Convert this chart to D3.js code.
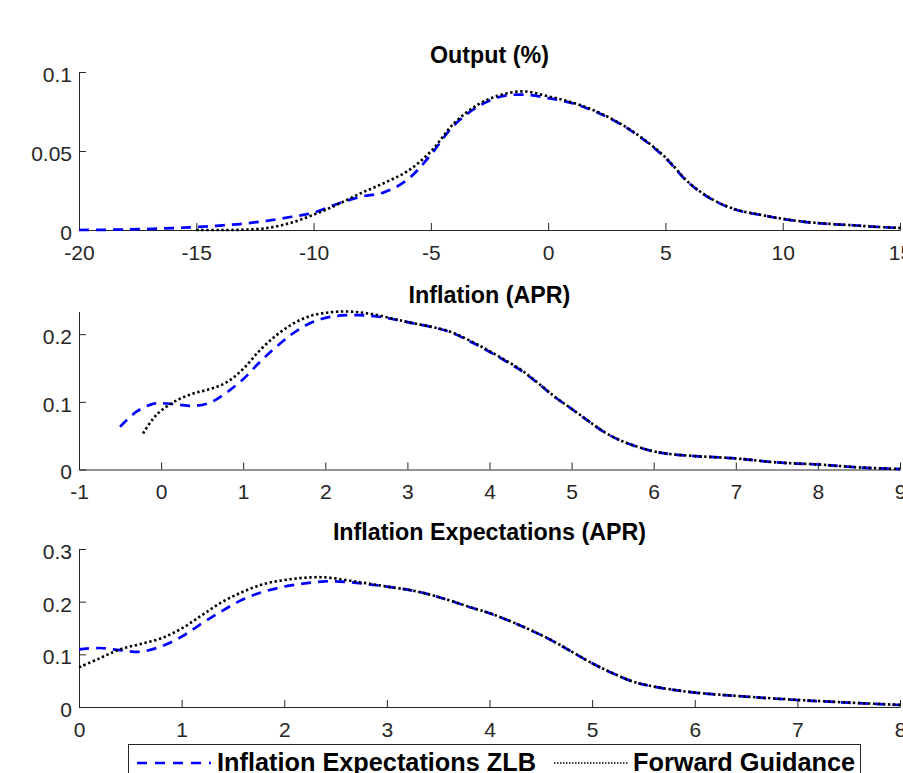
<!DOCTYPE html>
<html>
<head>
<meta charset="utf-8">
<script src="https://cdn.jsdelivr.net/npm/d3@7"></script>
<style>
  html, body { margin: 0; padding: 0; background: #fff; }
  svg { display: block; font-family: "Liberation Sans", Arial, sans-serif; }
</style>
</head>
<body>
<svg id="chart" width="903" height="773"></svg>
<script>
// ---------- Data ----------
const titles = ["Output (%)", "Inflation (APR)", "Inflation Expectations (APR)"];
const seriesNames = ["Inflation Expectations ZLB", "Forward Guidance"];

// Output (%)
const outZlbX = [-20,-18,-16,-15,-14,-13,-12,-11,-10,-9,-8,-7,-6,-5,-4,-3,-2,-1,0,1,2,3,4,5,6,7,8,9,10,11,12,13,14,15];
const outZlbY = [0,0.0003,0.0012,0.0019,0.0028,0.004,0.0058,0.0082,0.011,0.0165,0.021,0.0238,0.0318,0.0477,0.0665,0.078,0.0845,0.0856,0.0835,0.0804,0.075,0.0677,0.058,0.0456,0.0297,0.0192,0.0128,0.0097,0.007,0.005,0.0038,0.003,0.002,0.0013];
const outFgX = [-15,-14,-13,-12,-11,-10,-9,-8,-7,-6,-5,-4,-3,-2,-1,0,1,2,3,4,5,6,7,8,9,10,11,12,13,14,15];
const outFgY = [0,0,0.0002,0.0012,0.0044,0.0097,0.016,0.0232,0.0297,0.0372,0.0497,0.0677,0.0793,0.0856,0.0877,0.0846,0.0808,0.0754,0.068,0.0583,0.046,0.03,0.0194,0.013,0.0098,0.0071,0.0051,0.0039,0.003,0.002,0.0013];
const outXTicks = [-20,-15,-10,-5,0,5,10,15];
const outYTicks = [0,0.05,0.1];

// Inflation (APR)
const infZlbX = [-0.5,-0.3,-0.1,0,0.2,0.4,0.6,0.8,1.0,1.2,1.4,1.6,1.8,2.0,2.2,2.4,2.6,2.8,3.0,3.5,3.8,4.0,4.2,4.4,4.6,4.8,5.0,5.2,5.4,5.6,5.8,6.0,6.2,6.5,7.0,7.5,8.0,8.5,9.0];
const infZlbY = [0.063,0.0855,0.097,0.098,0.096,0.094,0.099,0.114,0.1335,0.1585,0.181,0.2006,0.2154,0.224,0.2277,0.228,0.2267,0.2228,0.2178,0.204,0.187,0.174,0.16,0.145,0.1265,0.1067,0.0895,0.072,0.055,0.0425,0.0336,0.0267,0.0228,0.0198,0.0163,0.0104,0.0074,0.003,0.0007];
const infFgX = [-0.22,-0.1,0,0.2,0.4,0.6,0.8,1.0,1.2,1.4,1.6,1.8,2.0,2.2,2.4,2.6,2.8,3.0,3.5,3.8,4.0,4.2,4.4,4.6,4.8,5.0,5.2,5.4,5.6,5.8,6.0,6.2,6.5,7.0,7.5,8.0,8.5,9.0];
const infFgY = [0.0533,0.0746,0.087,0.1028,0.1126,0.119,0.129,0.1487,0.1758,0.198,0.215,0.2262,0.2315,0.2335,0.2325,0.229,0.2235,0.218,0.2045,0.188,0.175,0.161,0.146,0.127,0.107,0.0897,0.0722,0.0552,0.0427,0.0338,0.0268,0.0229,0.0199,0.0164,0.0105,0.0075,0.0031,0.0008];
const infXTicks = [-1,0,1,2,3,4,5,6,7,8,9];
const infYTicks = [0,0.1,0.2];

// Inflation Expectations (APR)
const expZlbX = [0,0.2,0.4,0.6,0.8,1.0,1.2,1.4,1.6,1.8,2.0,2.2,2.4,2.6,2.8,3.0,3.3,3.6,3.8,4.0,4.2,4.4,4.6,4.8,5.0,5.2,5.4,5.6,5.8,6.0,6.5,7.0,7.5,8.0];
const expZlbY = [0.1095,0.112,0.108,0.105,0.115,0.1335,0.159,0.183,0.2045,0.219,0.2285,0.2348,0.2386,0.2375,0.2335,0.2285,0.219,0.203,0.19,0.178,0.163,0.146,0.127,0.105,0.083,0.064,0.048,0.0386,0.0323,0.0272,0.0196,0.0133,0.0082,0.0038];
const expFgX = [0,0.2,0.4,0.6,0.8,1.0,1.2,1.4,1.6,1.8,2.0,2.2,2.4,2.6,2.8,3.0,3.3,3.6,3.8,4.0,4.2,4.4,4.6,4.8,5.0,5.2,5.4,5.6,5.8,6.0,6.5,7.0,7.5,8.0];
const expFgY = [0.0753,0.0924,0.1095,0.1196,0.1304,0.149,0.1747,0.2,0.219,0.2335,0.241,0.2455,0.2462,0.241,0.235,0.2287,0.2192,0.2032,0.1902,0.1782,0.1632,0.1462,0.1272,0.1052,0.0832,0.0642,0.0482,0.0388,0.0325,0.0274,0.0198,0.0135,0.0084,0.004];
const expXTicks = [0,1,2,3,4,5,6,7,8];
const expYTicks = [0,0.1,0.2,0.3];

const xDomains = [[-20,15],[-1,9],[0,8]];
const yDomains = [[0,0.1],[0,0.2335],[0,0.3]];

// ---------- Layout ----------
const svg = d3.select("#chart");
const axisColor = "#262626";
const left = 79, right = 900;
const tops = [72, 311.5, 549];
const plotH = 158;

const panels = [
  {title: titles[0], zx: outZlbX, zy: outZlbY, fx: outFgX, fy: outFgY, xt: outXTicks, yt: outYTicks},
  {title: titles[1], zx: infZlbX, zy: infZlbY, fx: infFgX, fy: infFgY, xt: infXTicks, yt: infYTicks},
  {title: titles[2], zx: expZlbX, zy: expZlbY, fx: expFgX, fy: expFgY, xt: expXTicks, yt: expYTicks}
];

const fmt = v => (v === 0 ? "0" : String(+v.toFixed(3)));

panels.forEach((p, i) => {
  const top = tops[i], bottom = top + plotH;
  const x = d3.scaleLinear().domain(xDomains[i]).range([left, right]);
  const y = d3.scaleLinear().domain(yDomains[i]).range([bottom, top]);
  const g = svg.append("g");

  const xa = g.append("g").attr("transform", `translate(0,${bottom})`)
    .call(d3.axisBottom(x).tickValues(p.xt).tickFormat(fmt).tickSizeInner(-7).tickSizeOuter(0).tickPadding(14));
  const ya = g.append("g").attr("transform", `translate(${left},0)`)
    .call(d3.axisLeft(y).tickValues(p.yt).tickFormat(fmt).tickSizeInner(-7).tickSizeOuter(0).tickPadding(7));
  [xa, ya].forEach(a => {
    a.select(".domain").attr("stroke", axisColor).attr("stroke-width", 1);
    a.selectAll(".tick line").attr("stroke", axisColor).attr("stroke-width", 1);
    a.selectAll(".tick text").attr("fill", axisColor).attr("font-size", 21)
      .attr("font-family", "'Liberation Sans', Arial, sans-serif");
  });
  xa.selectAll(".tick text").attr("y", 29.5).attr("dy", null);
  ya.selectAll(".tick text").attr("dy", "0.45em");

  const line = (xs, ys) => d3.line().curve(d3.curveCatmullRom.alpha(0.5))
      .x(d => x(d[0])).y(d => y(d[1]))(xs.map((v, k) => [v, ys[k]]));

  g.append("path").attr("d", line(p.zx, p.zy))
    .attr("fill", "none").attr("stroke", "#0000ff").attr("stroke-width", 2.7)
    .attr("stroke-dasharray", "10,7");
  g.append("path").attr("d", line(p.fx, p.fy))
    .attr("fill", "none").attr("stroke", "#000").attr("stroke-width", 2.6)
    .attr("stroke-dasharray", "2.4,2.6");

  g.append("text").attr("x", (left + right) / 2).attr("y", top - 9)
    .attr("text-anchor", "middle").attr("font-weight", "bold").attr("font-size", 23.3)
    .attr("fill", "#000").text(p.title);
});

// ---------- Legend ----------
const lg = svg.append("g");
lg.append("rect").attr("x", 128.5).attr("y", 744.5).attr("width", 732).attr("height", 60)
  .attr("fill", "#fff").attr("stroke", axisColor).attr("stroke-width", 1);
const ly = 763;
lg.append("line").attr("x1", 137).attr("x2", 211).attr("y1", ly).attr("y2", ly)
  .attr("stroke", "#0000ff").attr("stroke-width", 2.5).attr("stroke-dasharray", "10,8");
lg.append("text").attr("x", 217).attr("y", 771).attr("font-size", 25.3).attr("font-weight", "bold")
  .attr("fill", "#000").text(seriesNames[0]);
lg.append("line").attr("x1", 554).attr("x2", 628).attr("y1", ly).attr("y2", ly)
  .attr("stroke", "#000").attr("stroke-width", 1.5).attr("stroke-dasharray", "1.5,1.5");
lg.append("text").attr("x", 633).attr("y", 771).attr("font-size", 25.3).attr("font-weight", "bold")
  .attr("fill", "#000").text(seriesNames[1]);
</script>
</body>
</html>
